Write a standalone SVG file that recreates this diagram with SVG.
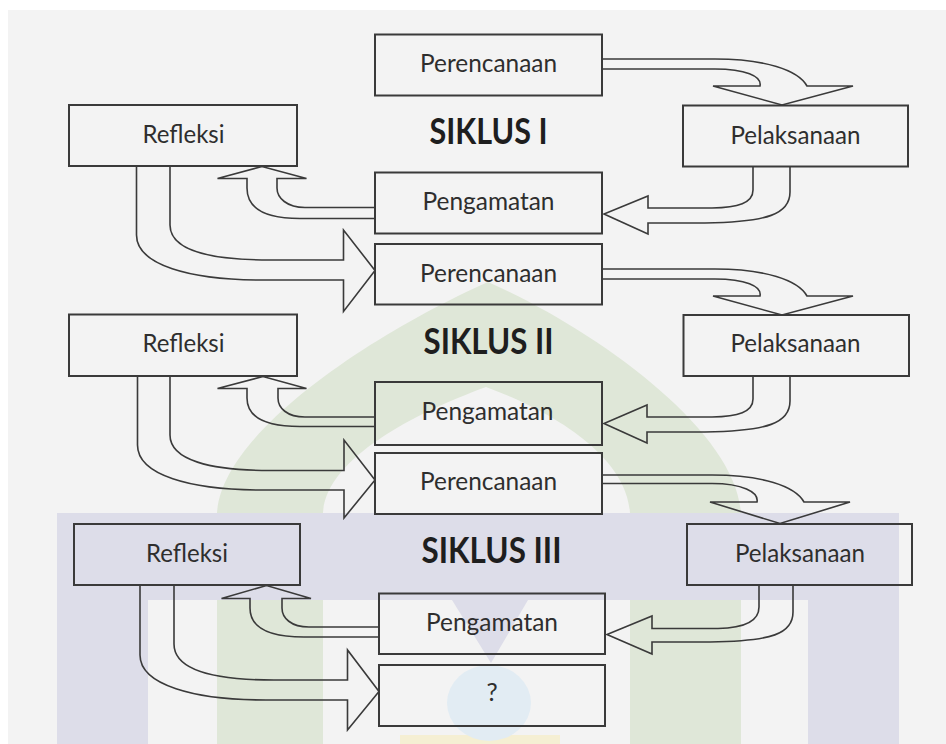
<svg xmlns="http://www.w3.org/2000/svg" width="946" height="744" viewBox="0 0 946 744">
<style>
.box{fill:none;stroke:#3a3a3a;stroke-width:2}
.lbl{font-family:Lato,"Open Sans","Liberation Sans",sans-serif;font-size:25px;fill:#2e2e2e;text-anchor:middle}
.ttl{font-family:Lato,"Open Sans","Liberation Sans",sans-serif;font-size:36px;font-weight:bold;fill:#1e1e1e;text-anchor:middle}
.arr{fill:none;stroke:#3a3a3a;stroke-width:1.6;stroke-linejoin:miter}
</style>
<rect x="0" y="0" width="946" height="744" fill="#ffffff"/>
<rect x="8" y="10" width="938" height="734" fill="#f3f3f3"/>
<g id="watermark">
<path d="M217,744 V513 C222,430 380,330 488,282 C596,330 736,430 741,513 V744 H630 V513 C627,460 562,415 486,387 C410,415 326,460 323,513 V744 Z" fill="#dfe7d8"/>
<path d="M57,513 H899 V744 H808 V600 H148 V744 H57 Z" fill="#dddde9"/>
<polygon points="452,600 528,600 491,663" fill="#dddde9"/>
<rect x="400" y="735" width="160" height="9" fill="#f5efd3"/>
<ellipse cx="489" cy="703" rx="42" ry="38" fill="#e2ecf3"/>
</g>
<g id="connectors">
<path class="arr" d="M602,59 H715 C765,59 798,70 807,86 H853 L782,105 L713,86 H760 C762,76 745,69 715,69 H602"/>
<path class="arr" d="M753,166.5 V190 C753,203 738,207.5 712,208 H648 V196 L604,214 L648,234 V223 H705 C768,222 790,214 790,192 V166.5"/>
<path class="arr" d="M375,207.5 H305 C287,207.5 277,198 277,188 V178.5 H306.5 L262,166.5 L217.5,178.5 H247 V188 C247,208 265,218.5 300,218.5 H375"/>
<path class="arr" d="M170,166 V225 C170,250 210,260 270,260 H343.5 V230 L375,270.5 L343.5,311.5 V280 H262 C190,280 136.5,265 136.5,235 V166"/>
<path class="arr" d="M602,269 H715 C765,269 798,280 807,296 H853 L782,315 L713,296 H760 C762,286 745,279 715,279 H602"/>
<path class="arr" d="M753,376.5 V399 C753,412 738,416.5 712,417 H647 V405 L604,423.5 L647,443 V432 H705 C768,431 790,423 790,401 V376.5"/>
<path class="arr" d="M375,417 H305 C287,417 278,408 278,398 V388.5 H306.5 L263,376.5 L217.5,388.5 H247 V398 C247,417 265,426.5 300,426.5 H375"/>
<path class="arr" d="M170,376 V435 C170,460 210,470.5 270,470.5 H344 V440 L375,480 L344,518 V490 H262 C190,490 137.5,475 137.5,445 V376"/>
<path class="arr" d="M602,475 H712 C762,475 795,486 804,502 H850 L780,523.5 L710,502 H757 C759,492 742,483.5 712,483.5 H602"/>
<path class="arr" d="M759,585.5 V607 C759,621 744,628 718,628.5 H652 V616 L607,634.5 L652,654 V642 H710 C772,641 793,634 793,612 V585.5"/>
<path class="arr" d="M379,627 H309 C291,627 282,618 282,608 V598.5 H311 L266.5,585.5 L221.5,598.5 H250 V608 C250,627 268,637 304,637 H379"/>
<path class="arr" d="M174,585 V644 C174,670 214,680 274,680 H347.5 V650 L379,691.5 L347.5,730 V700 H266 C194,700 140,685 140,655 V585"/>
</g>
<g id="siklus1">
<text class="ttl" x="488.5" y="143.5" textLength="118" lengthAdjust="spacingAndGlyphs">SIKLUS I</text>
</g>
<g id="siklus2">
<text class="ttl" x="488.5" y="354" textLength="130" lengthAdjust="spacingAndGlyphs">SIKLUS II</text>
</g>
<g id="siklus3">
<text class="ttl" x="491.5" y="563" textLength="140" lengthAdjust="spacingAndGlyphs">SIKLUS III</text>
</g>
<g id="perencanaan1"><rect class="box" x="375" y="34.5" width="227" height="61"/><text class="lbl" x="488.5" y="72" textLength="137" lengthAdjust="spacingAndGlyphs">Perencanaan</text></g>
<g id="refleksi1"><rect class="box" x="69" y="105" width="228" height="61"/><text class="lbl" x="183.5" y="143" textLength="82" lengthAdjust="spacingAndGlyphs">Refleksi</text></g>
<g id="pelaksanaan1"><rect class="box" x="683" y="105.5" width="225" height="61"/><text class="lbl" x="795.5" y="143.5" textLength="130" lengthAdjust="spacingAndGlyphs">Pelaksanaan</text></g>
<g id="pengamatan1"><rect class="box" x="375" y="172.5" width="227" height="61"/><text class="lbl" x="488.5" y="210" textLength="132" lengthAdjust="spacingAndGlyphs">Pengamatan</text></g>
<g id="perencanaan2"><rect class="box" x="375" y="244" width="227" height="60.5"/><text class="lbl" x="488.5" y="281.5" textLength="137" lengthAdjust="spacingAndGlyphs">Perencanaan</text></g>
<g id="refleksi2"><rect class="box" x="69" y="314.5" width="228" height="61.5"/><text class="lbl" x="183.5" y="352" textLength="82" lengthAdjust="spacingAndGlyphs">Refleksi</text></g>
<g id="pelaksanaan2"><rect class="box" x="683.5" y="315" width="225.5" height="61"/><text class="lbl" x="795.5" y="352" textLength="130" lengthAdjust="spacingAndGlyphs">Pelaksanaan</text></g>
<g id="pengamatan2"><rect class="box" x="375" y="382" width="227" height="63"/><text class="lbl" x="487.5" y="419.5" textLength="132" lengthAdjust="spacingAndGlyphs">Pengamatan</text></g>
<g id="perencanaan3"><rect class="box" x="375" y="453" width="227" height="61"/><text class="lbl" x="488.5" y="490" textLength="137" lengthAdjust="spacingAndGlyphs">Perencanaan</text></g>
<g id="refleksi3"><rect class="box" x="74" y="524" width="226" height="61"/><text class="lbl" x="187" y="561.5" textLength="82" lengthAdjust="spacingAndGlyphs">Refleksi</text></g>
<g id="pelaksanaan3"><rect class="box" x="687" y="524" width="225" height="61"/><text class="lbl" x="800" y="561.5" textLength="130" lengthAdjust="spacingAndGlyphs">Pelaksanaan</text></g>
<g id="pengamatan3"><rect class="box" x="379" y="593.5" width="226" height="60.5"/><text class="lbl" x="492" y="631" textLength="132" lengthAdjust="spacingAndGlyphs">Pengamatan</text></g>
<g id="next"><rect class="box" x="379" y="665" width="226" height="61"/><text class="lbl" x="492" y="701">?</text></g>
</svg>
